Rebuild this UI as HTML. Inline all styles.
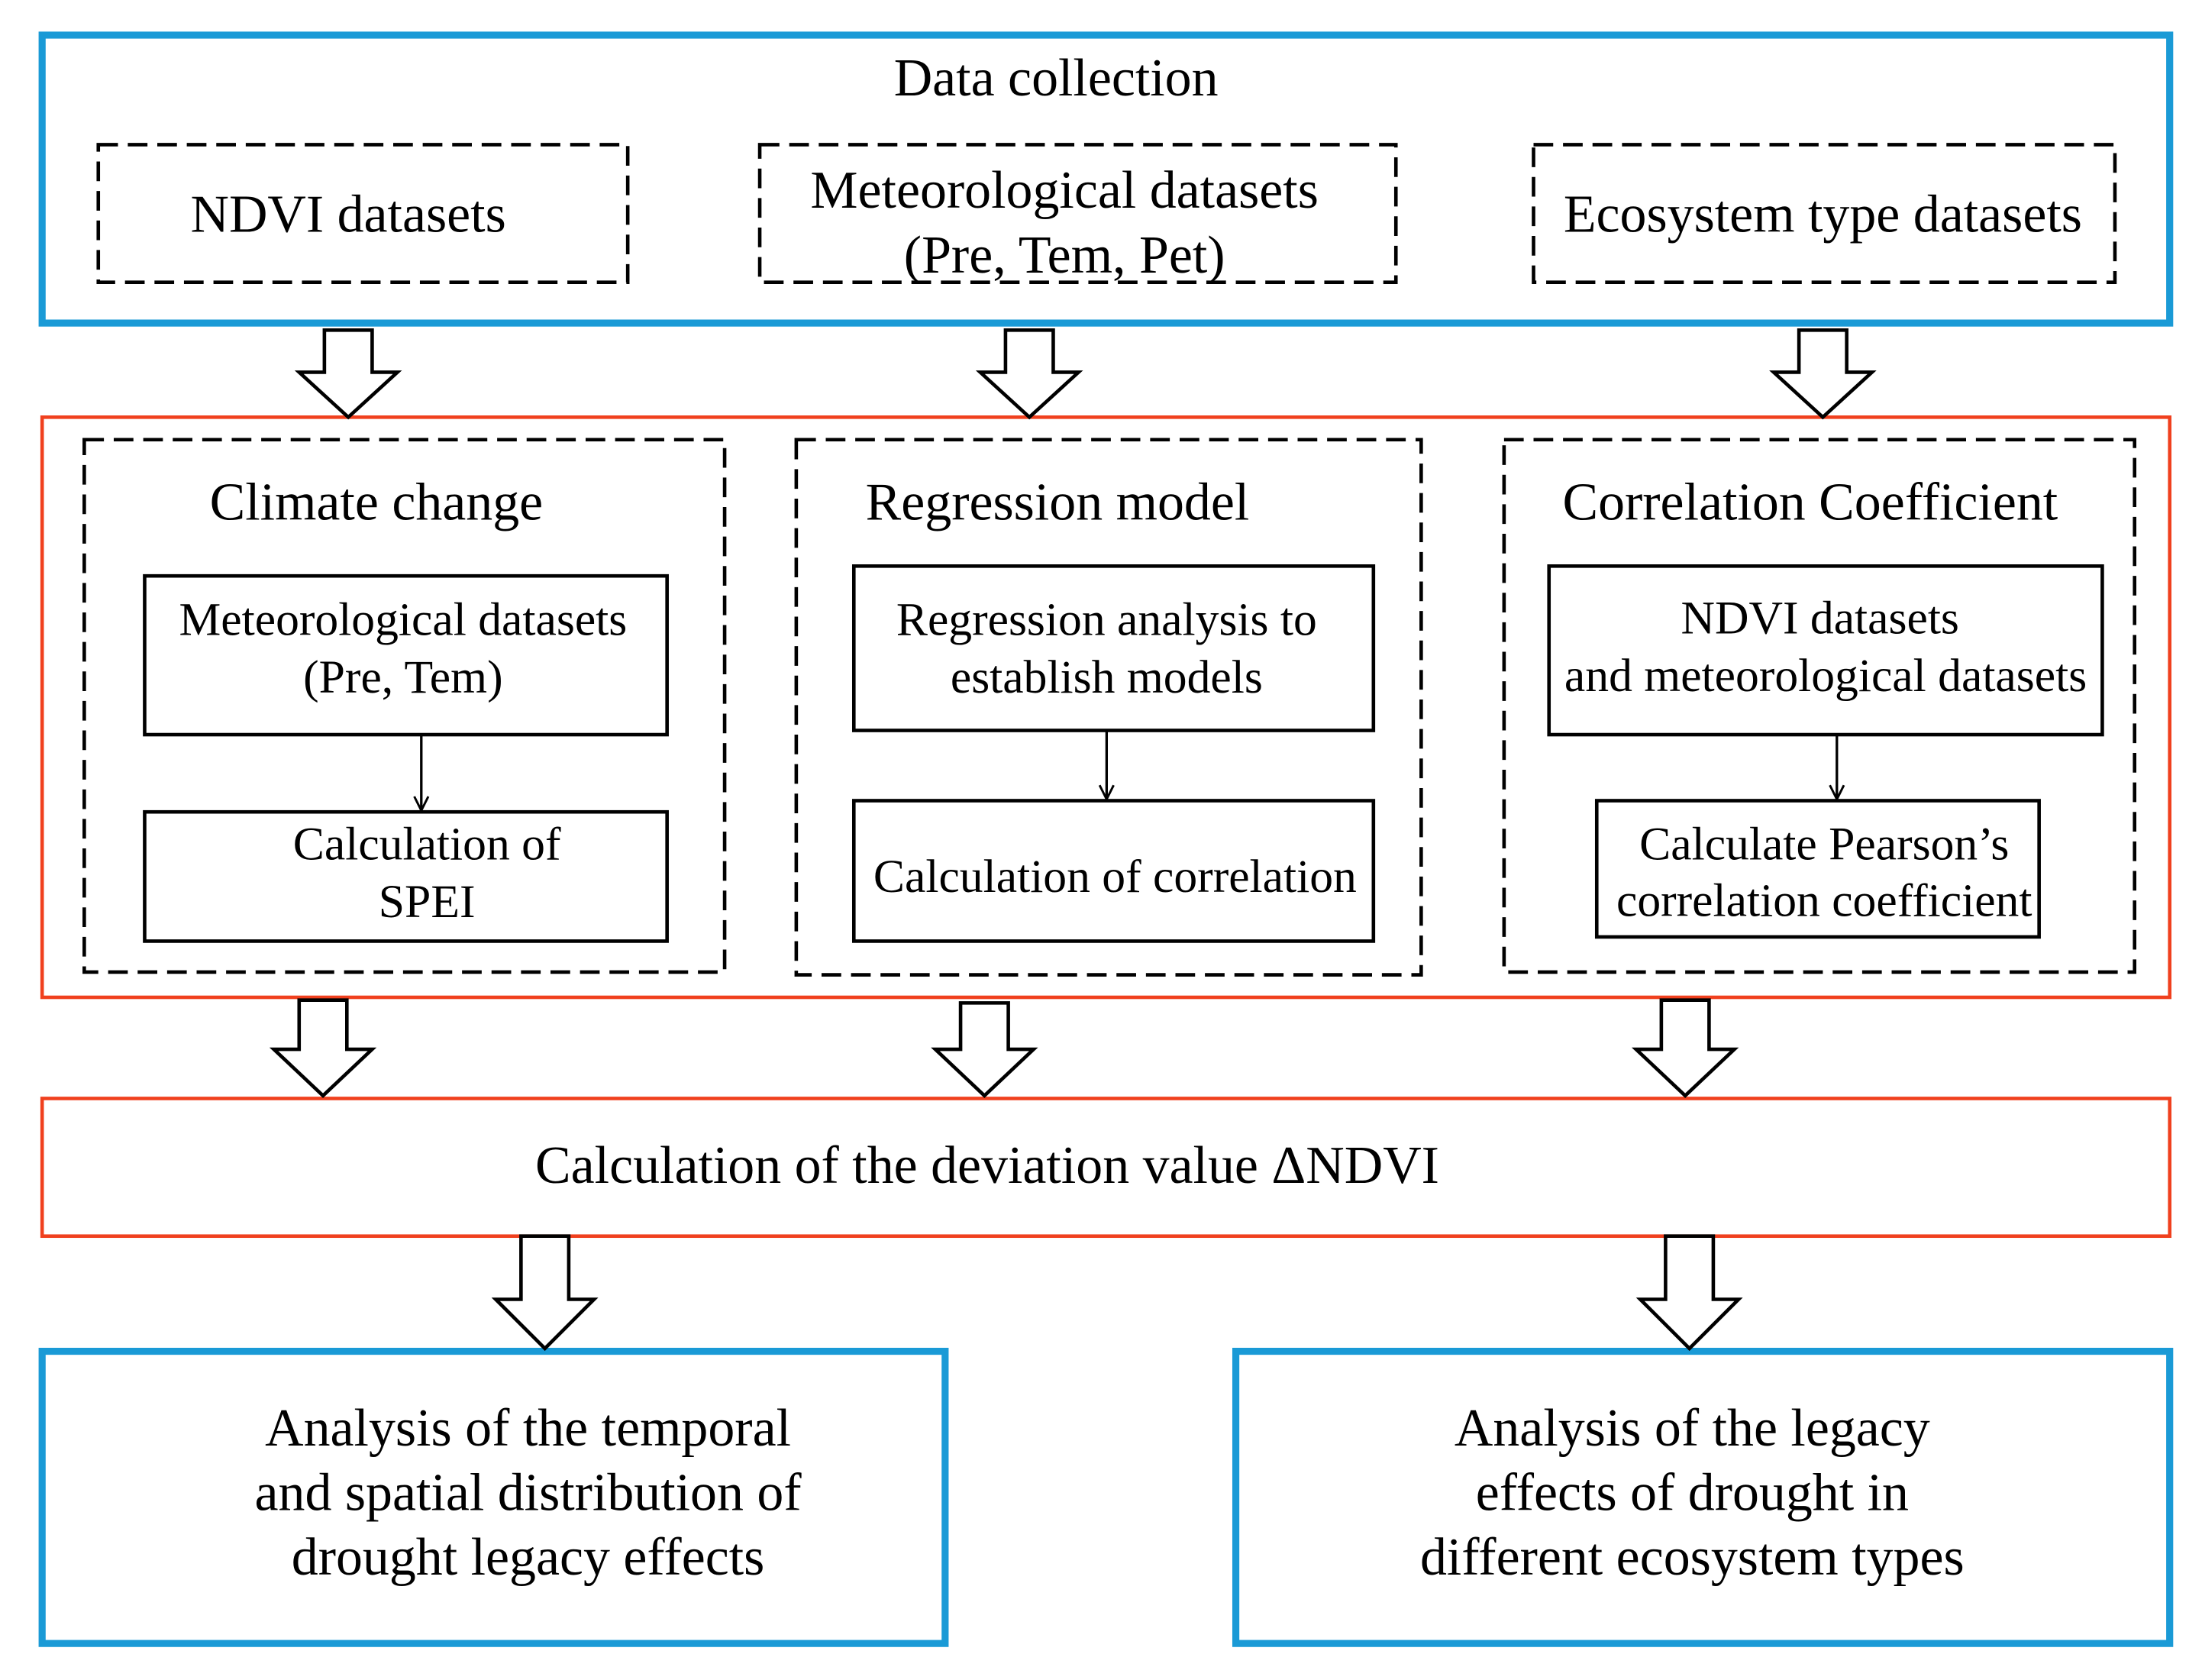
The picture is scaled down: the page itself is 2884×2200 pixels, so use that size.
<!DOCTYPE html>
<html><head><style>html,body{margin:0;padding:0;background:#fff}svg{display:block}</style></head><body>
<svg width="2884" height="2200" viewBox="0 0 1568 1196" preserveAspectRatio="none" xmlns="http://www.w3.org/2000/svg" font-family="Liberation Serif, serif" fill="none">
<defs>
<marker id="a" markerWidth="12" markerHeight="12" refX="11" refY="6" orient="auto" markerUnits="userSpaceOnUse"><path d="M1,1 L11,6 L1,11" stroke="#000" stroke-width="1.6" fill="none"/></marker>
</defs>
<g stroke="#1a9ad6" stroke-width="5">
<rect x="30" y="25" width="1515" height="205"/>
<rect x="30" y="962" width="643" height="208"/>
<rect x="880" y="962" width="665" height="208"/>
</g>
<g stroke="#f0401e" stroke-width="2.5">
<rect x="30" y="297" width="1515" height="413"/>
<rect x="30" y="782" width="1515" height="98"/>
</g>
<g stroke="#000" stroke-width="2.5" stroke-dasharray="14,7">
<rect x="70" y="103" width="377" height="98"/>
<rect x="541" y="103" width="453" height="98"/>
<rect x="1092" y="103" width="414" height="98"/>
<rect x="60" y="313" width="456" height="379"/>
<rect x="567" y="313" width="445" height="381"/>
<rect x="1071" y="313" width="449" height="379"/>
</g>
<g stroke="#000" stroke-width="2.5">
<rect x="103" y="410" width="372" height="113"/>
<rect x="103" y="578" width="372" height="92"/>
<rect x="608" y="403" width="370" height="117"/>
<rect x="608" y="570" width="370" height="100"/>
<rect x="1103" y="403" width="394" height="120"/>
<rect x="1137" y="570" width="315" height="97"/>
</g>
<g stroke="#000" stroke-width="1.8" marker-end="url(#a)">
<line x1="300" y1="523" x2="300" y2="577"/>
<line x1="788" y1="520" x2="788" y2="569"/>
<line x1="1308" y1="523" x2="1308" y2="569"/>
</g>
<g stroke="#000" stroke-width="2.5" fill="#fff">
<path d="M231,235 h34 v30 h18 l-35,32 l-35,-32 h18 z"/>
<path d="M716,235 h34 v30 h18 l-35,32 l-35,-32 h18 z"/>
<path d="M1281,235 h34 v30 h18 l-35,32 l-35,-32 h18 z"/>
<path d="M213,712 h34 v35 h18 l-35,33 l-35,-33 h18 z"/>
<path d="M684,714 h34 v33 h18 l-35,33 l-35,-33 h18 z"/>
<path d="M1183,712 h34 v35 h18 l-35,33 l-35,-33 h18 z"/>
<path d="M371,880 h34 v45 h18 l-35,35 l-35,-35 h18 z"/>
<path d="M1186,880 h34 v45 h18 l-35,35 l-35,-35 h18 z"/>
</g>
<g fill="#000" text-anchor="middle" font-size="38">
<text x="752" y="68">Data collection</text>
<text x="248" y="165">NDVI datasets</text>
<text x="758" y="148">Meteorological datasets</text>
<text x="758" y="194">(Pre, Tem, Pet)</text>
<text x="1298" y="165">Ecosystem type datasets</text>
<text x="268" y="370">Climate change</text>
<text x="753" y="370">Regression model</text>
<text x="1289" y="370">Correlation Coefficient</text>
<text x="703" y="842">Calculation of the deviation value ΔNDVI</text>
<text x="376" y="1029">Analysis of the temporal</text>
<text x="376" y="1075">and spatial distribution of</text>
<text x="376" y="1121">drought legacy effects</text>
<text x="1205" y="1029">Analysis of the legacy</text>
<text x="1205" y="1075">effects of drought in</text>
<text x="1205" y="1121">different ecosystem types</text>
</g>
<g fill="#000" text-anchor="middle" font-size="33.5">
<text x="287" y="452">Meteorological datasets</text>
<text x="287" y="493">(Pre, Tem)</text>
<text x="304" y="612">Calculation of</text>
<text x="304" y="653">SPEI</text>
<text x="788" y="452">Regression analysis to</text>
<text x="788" y="493">establish models</text>
<text x="794" y="635">Calculation of correlation</text>
<text x="1296" y="451">NDVI datasets</text>
<text x="1300" y="492">and meteorological datasets</text>
<text x="1299" y="612">Calculate Pearson’s</text>
<text x="1299" y="652">correlation coefficient</text>
</g>
</svg>
</body></html>
